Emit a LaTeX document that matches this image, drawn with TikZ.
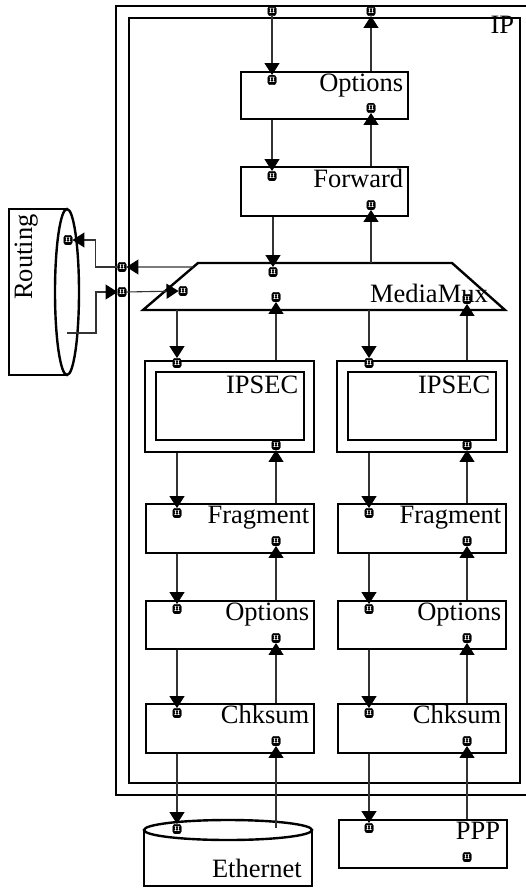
\documentclass[tikz,border=0pt]{standalone}
\usepackage{fontspec}
\setmainfont{Liberation Serif}
\usetikzlibrary{arrows.meta,calc}
\begin{document}
\begin{tikzpicture}[x=1pt,y=-1pt,
  box/.style={draw, line width=2.4pt, anchor=north west, inner sep=0pt, fill=none},
  lbl/.style={font=\fontsize{26.5}{30}\selectfont, inner sep=0pt},
  port/.style={draw=black, fill=black, rounded corners=2.5pt, minimum width=8.5pt, minimum height=9.5pt, inner sep=0pt, line width=0.4pt,
    path picture={\fill[white] ([xshift=-2.2pt,yshift=-1.8pt]path picture bounding box.center) rectangle ([xshift=-0.7pt,yshift=3pt]path picture bounding box.center);
                  \fill[white] ([xshift=0.7pt,yshift=-1.8pt]path picture bounding box.center) rectangle ([xshift=2.2pt,yshift=3pt]path picture bounding box.center);}},
  conn/.style={line width=1.1pt, draw=black!80},
  arr/.style={conn, -{Triangle[width=15pt,length=12pt,color=black]}}
]
\useasboundingbox (0,0) rectangle (526,888);
\fill[white] (0,0) rectangle (526,888);

% IP container
\node[box, minimum width=418pt, minimum height=789pt] (ipouter) at (115,5) {};
\node[box, minimum width=391pt, minimum height=765pt] (ipinner) at (128,17) {};
\node[lbl, anchor=base east] (iplbl) at ($(ipinner.north east)+(-7,17)$) {IP};

% top chain
\node[port] (tpIn) at (272,11) {};
\node[port] (tpOut) at (371,11) {};
\node[box, minimum width=167pt, minimum height=47pt] (opt) at (240,71) {};
\node[lbl, anchor=base east] at ($(opt.north east)+(-6,21)$) {Options};
\node[port] (optin) at (272,80) {};
\node[port] (optout) at (371,108) {};
\node[box, minimum width=167pt, minimum height=49pt] (fwd) at (240,166) {};
\node[lbl, anchor=base east] at ($(fwd.north east)+(-6,21)$) {Forward};
\node[port] (fwdin) at (272,176) {};
\node[port] (fwdout) at (371,205) {};

% MediaMux
\coordinate (mTL) at (198,263);
\coordinate (mTR) at (452,263);
\coordinate (mBR) at (505,310);
\coordinate (mBL) at (143,310);
\draw[line width=2.4pt, line join=miter] (mTL) -- (mTR) -- (mBR) -- (mBL) -- cycle;
\node[lbl, anchor=base east] (muxlbl) at (488,302) {MediaMux};
\node[port] (mt) at (273,272) {};
\node[port] (mb) at (276,297) {};
\node[port] (ml) at (183,291) {};
\node[port] (mr) at (467,299) {};
\coordinate (mle) at ($(mTL)!0.085!(mBL)$);

% side ports
\node[port] (sp1) at (122,267) {};
\node[port] (sp2) at (122,292) {};

% Routing cylinder
\draw[line width=2.4pt] (67,209) -- (9,209) -- (9,375) -- (67,375);
\draw[line width=2.4pt] (67,292) ellipse [x radius=12, y radius=83];
\node[lbl, rotate=90, anchor=base west] (routlbl) at (32,300) {Routing};
\node[port] (rp) at (68,240) {};
\coordinate (rbot) at (67,333);

% columns
\foreach \c/\x/\w in {L/144/169, R/336/170} {
  \node[box, minimum width=\w pt, minimum height=91pt] (ip\c) at (\x,360) {};
  \node[box, minimum width=148pt, minimum height=68pt] (ipi\c) at (\x+11,371) {};
  \node[lbl, anchor=base east] at ($(ipi\c.north east)+(-7,22)$) {IPSEC};
}
\foreach \c/\x in {L/145, R/337} {
  \node[box, minimum width=168pt, minimum height=49pt] (fr\c) at (\x,503) {};
  \node[lbl, anchor=base east] at ($(fr\c.north east)+(-6,20)$) {Fragment};
  \node[box, minimum width=168pt, minimum height=48pt] (op\c) at (\x,600) {};
  \node[lbl, anchor=base east] at ($(op\c.north east)+(-6,20)$) {Options};
  \node[box, minimum width=168pt, minimum height=49pt] (ck\c) at (\x,703) {};
  \node[lbl, anchor=base east] at ($(ck\c.north east)+(-6,20)$) {Chksum};
}
\foreach \c/\a/\b in {L/177/276, R/369/467} {
  \node[port] (ipin\c) at (\a,363) {};
  \node[port] (ipout\c) at (\b,445) {};
  \node[port] (frin\c) at (\a,513) {};
  \node[port] (frout\c) at (\b,541) {};
  \node[port] (opin\c) at (\a,609) {};
  \node[port] (opout\c) at (\b,638) {};
  \node[port] (ckin\c) at (\a,713) {};
  \node[port] (ckout\c) at (\b,741) {};
}

% Ethernet cylinder
\draw[line width=2.4pt] (144,830) -- (144,886) -- (312,886) -- (312,830);
\draw[line width=2.4pt] (228,830) ellipse [x radius=84, y radius=10];
\node[lbl, anchor=base east] (ethlbl) at (302,877) {Ethernet};
\node[port] (ep) at (177,829) {};
\coordinate (etop) at (276,828);

% PPP
\node[box, minimum width=168pt, minimum height=48pt] (ppp) at (338,819) {};
\node[lbl, anchor=base east] at ($(ppp.north east)+(-8,20)$) {PPP};
\node[port] (pppin) at (369,828) {};
\node[port] (pppout) at (467,857) {};

% connectors: top chain
\draw[arr] (tpIn.south) -- (optin.north);
\draw[arr] (opt.north -| tpOut) -- (tpOut.south);
\draw[arr] (opt.south -| optin) -- (fwdin.north);
\draw[arr] (fwd.north -| optout) -- (optout.south);
\draw[arr] (fwd.south -| mt) -- (mt.north);
\draw[arr] (mTL -| fwdout) -- (fwdout.south);

% routing
\draw[arr] (mle) -- (sp1.east);
\draw[arr] (sp1.west) -- ++(-22,0) |- (rp.east);
\draw[arr] (rbot) -- ++(29,0) |- (sp2.west);
\draw[arr] (sp2.east) -- (ml.west);

% mux to columns
\draw[arr] (mBL -| ipinL) -- (ipinL.north);
\draw[arr] (mBL -| ipinR) -- (ipinR.north);
\draw[arr] (ipL.north -| mb) -- (mb.south);
\draw[arr] (ipR.north -| mr) -- (mr.south);

\foreach \c in {L,R} {
  \draw[arr] (ip\c.south -| ipin\c) -- (frin\c.north);
  \draw[arr] (fr\c.north -| ipout\c) -- (ipout\c.south);
  \draw[arr] (fr\c.south -| frin\c) -- (opin\c.north);
  \draw[arr] (op\c.north -| frout\c) -- (frout\c.south);
  \draw[arr] (op\c.south -| opin\c) -- (ckin\c.north);
  \draw[arr] (ck\c.north -| opout\c) -- (opout\c.south);
}

% bottom
\draw[arr] (ckL.south -| ckinL) -- (ep.north);
\draw[arr] (etop) -- (ckoutL.south);
\draw[arr] (ckR.south -| ckinR) -- (pppin.north);
\draw[arr] (ppp.north -| ckoutR) -- (ckoutR.south);
\end{tikzpicture}
\end{document}
